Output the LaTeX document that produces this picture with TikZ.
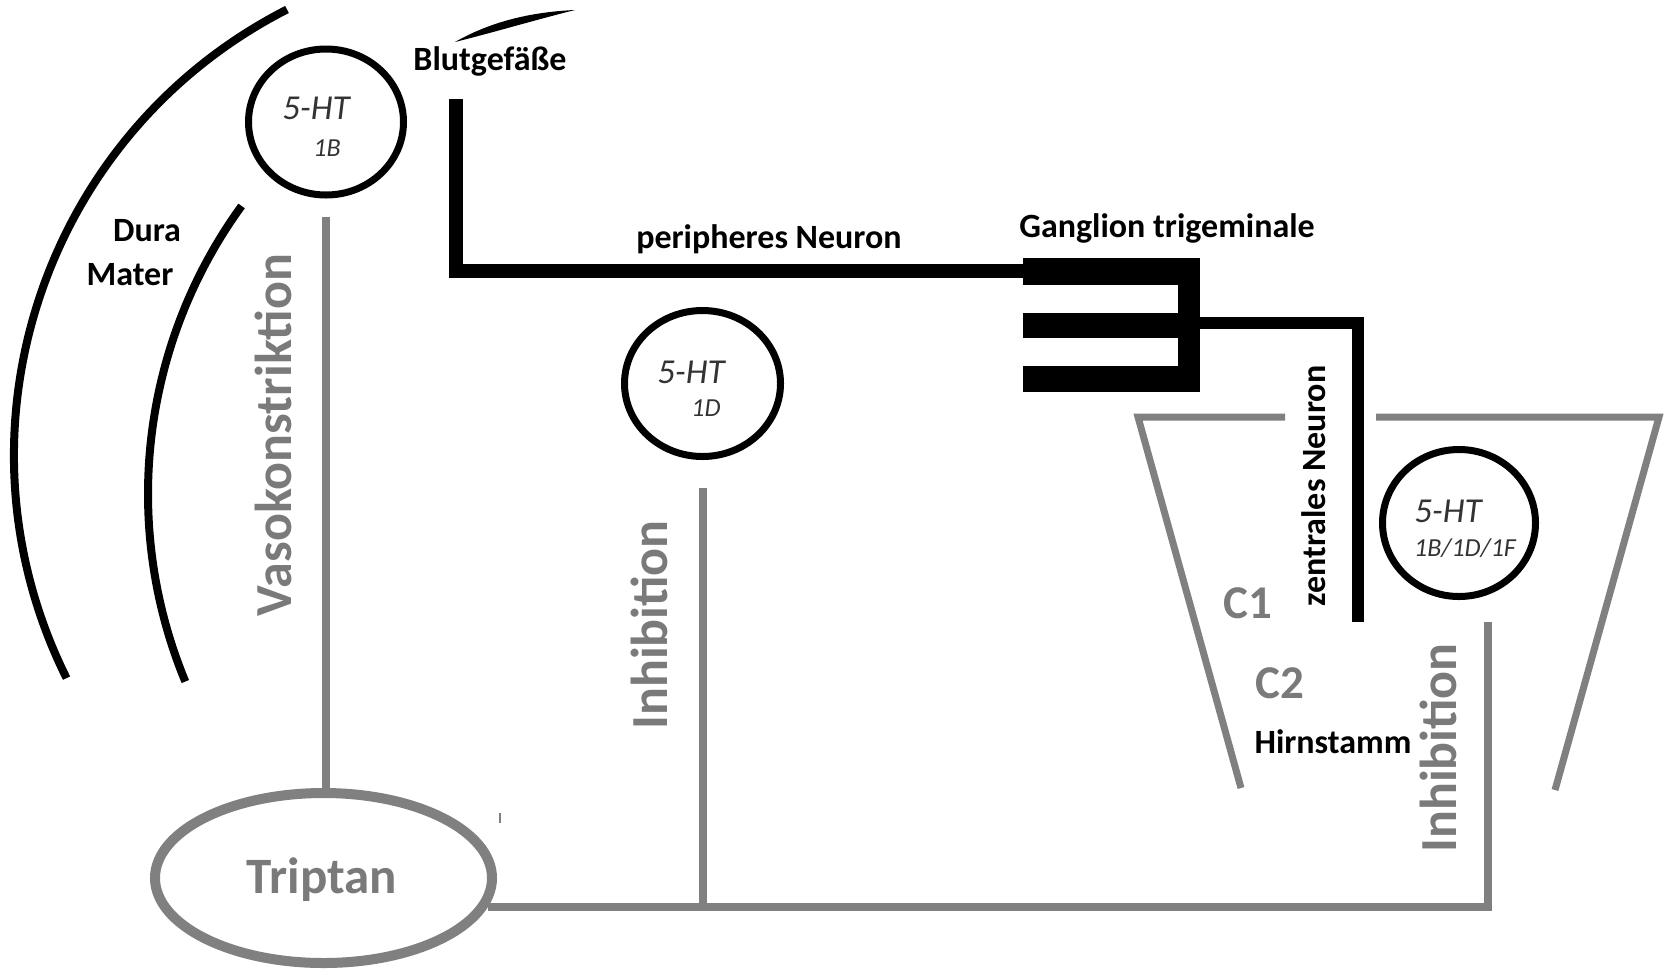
\documentclass[tikz,border=0pt]{standalone}
\usepackage{fontspec}
\setmainfont{Carlito}
\usetikzlibrary{shapes.geometric}
\definecolor{lg}{HTML}{808080}
\definecolor{tg}{HTML}{7A7A7A}
\begin{document}
\begin{tikzpicture}[x=0.5pt,y=-0.5pt,
  arcline/.style={draw=black, line width=4pt},
  recep/.style={ellipse, draw=black, line width=3.5pt, inner sep=0pt},
  gline/.style={draw=lg, line width=4pt},
  trapline/.style={draw=lg, line width=3.5pt, line join=miter},
  neur/.style={draw=black, line width=7pt, line join=miter},
  lbl/.style={font=\bfseries\fontsize{17}{20}\selectfont, inner sep=0pt, anchor=base},
  big/.style={font=\bfseries\fontsize{26}{30}\selectfont, text=tg, inner sep=0pt, anchor=base},
  cl/.style={font=\bfseries\fontsize{23.5}{28}\selectfont, text=tg, inner sep=0pt, anchor=base},
  ht/.style={font=\itshape\fontsize{17.5}{20}\selectfont, text=black!80, inner sep=0pt, anchor=base},
  sub/.style={font=\itshape\fontsize{13}{15}\selectfont, text=black!80, inner sep=0pt, anchor=base},
]
\useasboundingbox (0,0) rectangle (1669,970);

% Dura mater arcs
\draw[arcline] (514,455) ++(-117:500) arc[start angle=-117, end angle=-206.5, radius=500];
\draw[arcline] (638,494) ++(-144:490) arc[start angle=-144, end angle=-202.5, radius=490];
% blood vessel stroke
\fill (455,42) .. controls (490,22) and (530,12) .. (575,10) .. controls (535,20) and (495,32) .. cycle;

% labels
\node[lbl] (blut) at (490,70) {Blutgefäße};
\node[lbl] (dura) at (147,241) {Dura};
\node[lbl] (mater) at (130,285) {Mater};
\node[lbl] (peri) at (769,248) {peripheres Neuron};
\node[lbl] (gang) at (1167,237) {Ganglion trigeminale};
\node[lbl] (hirn) at (1333,753) {Hirnstamm};
\node[lbl, rotate=90] (zent) at (1325,486) {zentrales Neuron};

% receptors
\node[recep, minimum width=77.5pt, minimum height=73pt] (c1b) at (326,122) {};
\node[ht] (t1b) at (316,119) {5-HT};
\node[sub] (s1b) at (327,156) {1B};
\node[recep, minimum width=78pt, minimum height=73pt] (c1d) at (702.5,383.5) {};
\node[ht] (t1d) at (691,383) {5-HT};
\node[sub] (s1d) at (706,416) {1D};
\node[recep, minimum width=76.5pt, minimum height=73.5pt] (c3) at (1459,523) {};
\node[ht] (t3) at (1448,522) {5-HT};
\node[sub] (s3) at (1465,556) {1B/1D/1F};

% Triptan
\node[ellipse, draw=lg, line width=5pt, inner sep=0pt, minimum width=168.5pt, minimum height=85pt] (trip) at (323.5,878) {};
\node[big, font=\bfseries\fontsize{25.5}{30}\selectfont] (tript) at (322,893) {Triptan};

% peripheral neuron and ganglion
\coordinate (pntop) at (456,99);
\coordinate (gin) at (1026,271);
\coordinate (gout) at (1195,323);
\coordinate (cnend) at (1358,622);
\draw[neur] (pntop) -- (pntop |- gin) -- (gin);
\fill (1023,258) rectangle (1200,285);
\fill (1023,313) rectangle (1200,338);
\fill (1023,366) rectangle (1200,392);
\fill (1178,258) rectangle (1200,392);
\draw[neur, line width=6pt] (gout) -- (gout -| cnend) -- (cnend);

% brainstem
\draw[trapline] (1285,417) -- (1138,417) -- (1241,788);
\draw[trapline] (1376,417) -- (1659,417) -- (1555,790);
\node[cl] (c1) at (1248,618) {C1};
\node[cl] (c2) at (1280,698) {C2};

% gray connectors
\coordinate (rt) at (1488,622);
\coordinate (rc) at (1488,907);
\draw[gline, shorten <=9pt] (c1b.south) -- (c1b.south |- trip.north);
\draw[gline, shorten <=14pt] (c1d.south) -- (c1d.south |- rc);
\draw[gline, line join=miter] (trip.-10 |- rc) -- (rc) -- (rt);
\draw[lg, line width=0.8pt] (500,813) -- (500,823);

% gray rotated labels
\node[big, rotate=90] (vaso) at (291,435) {Vasokonstriktion};
\node[big, rotate=90] (inh1) at (667,625) {Inhibition};
\node[big, rotate=90] (inh2) at (1456,748) {Inhibition};
\end{tikzpicture}
\end{document}
